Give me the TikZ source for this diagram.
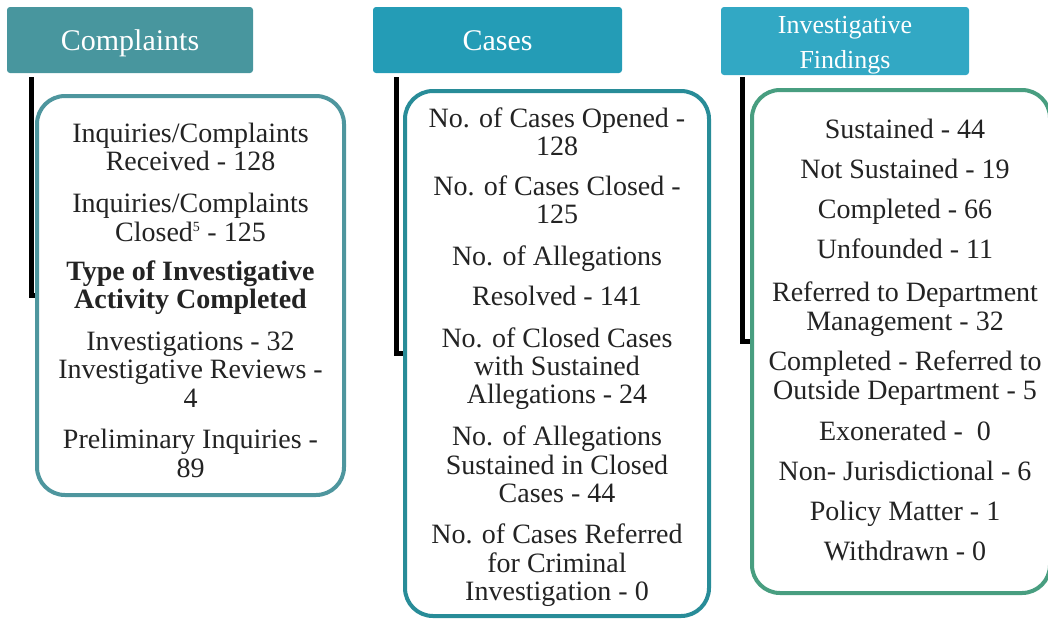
\documentclass[tikz,border=0pt]{standalone}
\usepackage{fontspec}
\setmainfont{Liberation Serif}
\definecolor{hcA}{RGB}{72,150,158}
\definecolor{hcB}{RGB}{36,156,182}
\definecolor{hcC}{RGB}{50,168,196}
\definecolor{bcA}{RGB}{78,150,158}
\definecolor{bcB}{RGB}{40,140,152}
\definecolor{bcC}{RGB}{72,158,128}
\definecolor{ink}{RGB}{35,35,35}
\begin{document}
\begin{tikzpicture}[x=1pt,y=-1pt,
  hdrbox/.style={fill=#1, draw=none, rounded corners=3pt, text=white, inner sep=0pt},
  listbox/.style={draw=#1, line width=4pt, rounded corners=28pt, fill=white, inner sep=0pt},
  bar/.style={draw=black, line width=5pt, line cap=butt, line join=miter},
  txt/.style={anchor=base, inner sep=0pt, text=ink, font=\fontsize{28}{28}\selectfont},
  btxt/.style={txt, font=\fontsize{28}{28}\selectfont\bfseries}]
\useasboundingbox (0,0) rectangle (1048,621);
% headers
\node[hdrbox=hcA, minimum width=246pt, minimum height=66pt, text height=24pt, text depth=4pt, font=\fontsize{30}{30}\selectfont] (h1) at (130,40) {Complaints};
\node[hdrbox=hcB, minimum width=249pt, minimum height=66pt, text height=24pt, text depth=4pt, font=\fontsize{30}{30}\selectfont] (h2) at (497.5,40) {Cases};
\node[hdrbox=hcC, minimum width=248pt, minimum height=68pt, text height=55pt, text depth=1pt, font=\fontsize{26}{35}\selectfont, align=center] (h3) at (845,41) {Investigative\\Findings};
% boxes
\node[listbox=bcA, minimum width=307pt, minimum height=399pt] (b1) at (190.5,295.5) {};
\node[listbox=bcB, minimum width=304pt, minimum height=525pt] (b2) at (557,353.5) {};
\node[listbox=bcC, minimum width=298pt, minimum height=503pt] (b3) at (901,341.5) {};
% connectors
\coordinate (s1) at (31,77);
\coordinate (s2) at (396,77);
\coordinate (s3) at (742,77);
\draw[bar] (s1) |- (b1.west);
\draw[bar] (s2) |- (b2.west);
\draw[bar] (s3) |- (b3.west);
% complaints text
\node[txt] (a1) at (190.5,142) {Inquiries/Complaints};
\node[txt] (a2) at (190.5,170) {Received - 128};
\node[txt] (a3) at (190.5,212) {Inquiries/Complaints};
\node[txt] (a4) at (190.5,241) {Closed\textsuperscript{\fontsize{14}{14}\selectfont 5} - 125};
\node[btxt] (a5) at (190.5,280) {Type of Investigative};
\node[btxt] (a6) at (190.5,308) {Activity Completed};
\node[txt] (a7) at (190.5,350) {Investigations - 32};
\node[txt] (a8) at (190.5,378) {Investigative Reviews -};
\node[txt] (a9) at (190.5,407) {4};
\node[txt] (a10) at (190.5,448) {Preliminary Inquiries -};
\node[txt] (a11) at (190.5,477) {89};
% cases text
\node[txt] (c1) at (557,127) {No. of Cases Opened -};
\node[txt] (c2) at (557,155) {128};
\node[txt] (c3) at (557,195) {No. of Cases Closed -};
\node[txt] (c4) at (557,223) {125};
\node[txt] (c5) at (557,265) {No. of Allegations};
\node[txt] (c6) at (557,305) {Resolved - 141};
\node[txt] (c7) at (557,347) {No. of Closed Cases};
\node[txt] (c8) at (557,375) {with Sustained};
\node[txt] (c9) at (557,403) {Allegations - 24};
\node[txt] (c10) at (557,445) {No. of Allegations};
\node[txt] (c11) at (557,474) {Sustained in Closed};
\node[txt] (c12) at (557,502) {Cases - 44};
\node[txt] (c13) at (557,543) {No. of Cases Referred};
\node[txt] (c14) at (557,572) {for Criminal};
\node[txt] (c15) at (557,600) {Investigation - 0};
% findings text
\node[txt] (f1) at (905,138) {Sustained - 44};
\node[txt] (f2) at (905,178) {Not Sustained - 19};
\node[txt] (f3) at (905,218) {Completed - 66};
\node[txt] (f4) at (905,258) {Unfounded - 11};
\node[txt] (f5) at (905,301) {Referred to Department};
\node[txt] (f6) at (905,330) {Management - 32};
\node[txt] (f7) at (905,370) {Completed - Referred to};
\node[txt] (f8) at (905,399) {Outside Department - 5};
\node[txt] (f9) at (905,440) {Exonerated - \ 0};
\node[txt] (f10) at (905,480) {Non- Jurisdictional - 6};
\node[txt] (f11) at (905,520) {Policy Matter - 1};
\node[txt] (f12) at (905,560) {Withdrawn - 0};
\end{tikzpicture}
\end{document}
